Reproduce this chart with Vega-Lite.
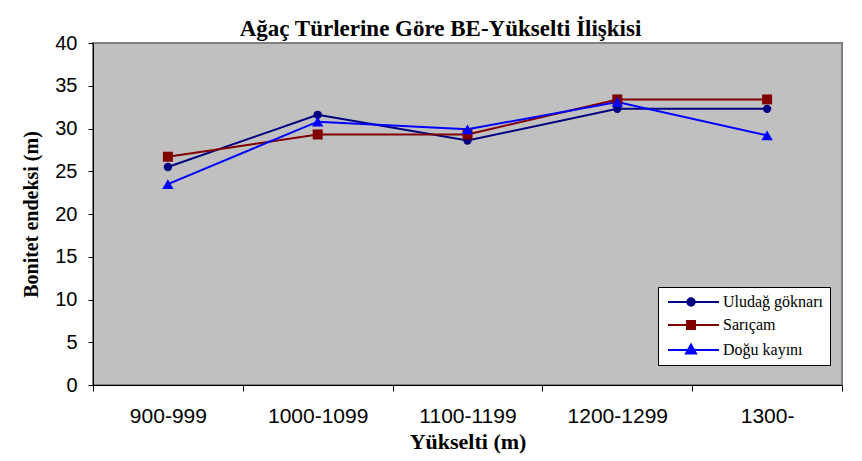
{
  "$schema": "https://vega.github.io/schema/vega-lite/v6.json",
  "width": 749,
  "height": 342,
  "autosize": {"type": "none"},
  "padding": {"left": 93, "top": 43, "right": 20, "bottom": 76},
  "background": "white",
  "title": {
    "text": "Ağaç Türlerine Göre BE-Yükselti İlişkisi",
    "font": "Liberation Serif",
    "fontSize": 23,
    "fontWeight": "bold",
    "color": "black",
    "anchor": "middle",
    "frame": "group",
    "dx": -27,
    "baseline": "alphabetic",
    "offset": 5,
    "dy": 31
  },
  "data": {
    "values": [
      {"yukselti": "900-999", "tur": "Uludağ göknarı", "be": 25.5},
      {"yukselti": "1000-1099", "tur": "Uludağ göknarı", "be": 31.6},
      {"yukselti": "1100-1199", "tur": "Uludağ göknarı", "be": 28.6},
      {"yukselti": "1200-1299", "tur": "Uludağ göknarı", "be": 32.3},
      {"yukselti": "1300-", "tur": "Uludağ göknarı", "be": 32.3},
      {"yukselti": "900-999", "tur": "Sarıçam", "be": 26.7},
      {"yukselti": "1000-1099", "tur": "Sarıçam", "be": 29.3},
      {"yukselti": "1100-1199", "tur": "Sarıçam", "be": 29.3},
      {"yukselti": "1200-1299", "tur": "Sarıçam", "be": 33.4},
      {"yukselti": "1300-", "tur": "Sarıçam", "be": 33.4},
      {"yukselti": "900-999", "tur": "Doğu kayını", "be": 23.5},
      {"yukselti": "1000-1099", "tur": "Doğu kayını", "be": 30.8},
      {"yukselti": "1100-1199", "tur": "Doğu kayını", "be": 29.9},
      {"yukselti": "1200-1299", "tur": "Doğu kayını", "be": 33.1},
      {"yukselti": "1300-", "tur": "Doğu kayını", "be": 29.2}
    ]
  },
  "encoding": {
    "x": {
      "field": "yukselti",
      "type": "nominal",
      "sort": ["900-999", "1000-1099", "1100-1199", "1200-1299", "1300-"],
      "scale": {"paddingInner": 0, "paddingOuter": 0},
      "axis": {
        "title": "Yükselti (m)",
        "titleFont": "Liberation Serif",
        "titleFontSize": 22,
        "titleFontWeight": "bold",
        "titleColor": "black",
        "titlePadding": 5,
        "labelAngle": 0,
        "labelFont": "Liberation Sans",
        "labelFontSize": 21,
        "labelColor": "black",
        "labelPadding": 14,
        "tickBand": "extent",
        "tickSize": 6,
        "tickColor": "black",
        "domainColor": "black",
        "domainWidth": 1,
        "grid": false
      }
    },
    "y": {
      "field": "be",
      "type": "quantitative",
      "scale": {"domain": [0, 40], "nice": false},
      "axis": {
        "title": "Bonitet endeksi (m)",
        "titleFont": "Liberation Serif",
        "titleFontSize": 20,
        "titleFontWeight": "bold",
        "titleColor": "black",
        "titlePadding": 13,
        "values": [0, 5, 10, 15, 20, 25, 30, 35, 40],
        "labelFont": "Liberation Sans",
        "labelFontSize": 20,
        "labelColor": "black",
        "labelPadding": 11,
        "tickSize": 5,
        "tickColor": "black",
        "domainColor": "black",
        "grid": false
      }
    },
    "color": {
      "field": "tur",
      "type": "nominal",
      "scale": {
        "domain": ["Uludağ göknarı", "Sarıçam", "Doğu kayını"],
        "range": ["#000080", "#800000", "#0000FF"]
      },
      "legend": {
        "title": null,
        "orient": "none",
        "legendX": 565,
        "legendY": 244,
        "fillColor": "white",
        "strokeColor": "black",
        "padding": 7,
        "rowPadding": 7,
        "symbolSize": 100,
        "labelOffset": 42,
        "labelFont": "Liberation Serif",
        "labelFontSize": 16,
        "labelColor": "black",
        "encode": {
          "symbols": {
            "update": {
              "shape": {"signal": "datum.value === 'Uludağ göknarı' ? 'M-1,0H9.2M2.85,0A0.75,0.75 0 1,0 4.35,0A0.75,0.75 0 1,0 2.85,0Z' : datum.value === 'Sarıçam' ? 'M-1,0H9.2M2.8,-0.8H4.4V0.8H2.8Z' : 'M-1,0H9.2M3.6,-1.1L4.6,0.7H2.6Z'"},
              "stroke": {"signal": "scale('color', datum.value)"},
              "fill": {"signal": "scale('color', datum.value)"},
              "strokeWidth": {"value": 2},
              "size": {"value": 100}
            }
          }
        }
      }
    }
  },
  "layer": [
    {"mark": {"type": "line", "strokeWidth": 2}},
    {
      "transform": [{"filter": "datum.tur === 'Uludağ göknarı'"}],
      "mark": {"type": "point", "shape": "circle", "filled": true, "opacity": 1, "size": 70}
    },
    {
      "transform": [{"filter": "datum.tur === 'Sarıçam'"}],
      "mark": {"type": "point", "shape": "square", "filled": true, "opacity": 1, "size": 100}
    },
    {
      "transform": [{"filter": "datum.tur === 'Doğu kayını'"}],
      "mark": {"type": "point", "shape": "triangle-up", "filled": true, "opacity": 1, "size": 130}
    }
  ],
  "config": {
    "view": {"fill": "#C0C0C0", "stroke": "#808080", "strokeWidth": 2}
  }
}
